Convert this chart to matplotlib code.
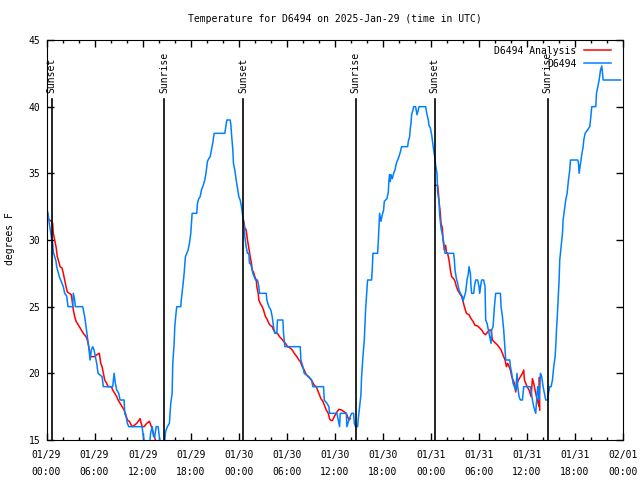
import numpy as np
import pandas as pd
import matplotlib
matplotlib.use('Agg')
import matplotlib.pyplot as plt

plt.rcParams['font.family'] = 'DejaVu Sans Mono'
plt.rcParams['font.size'] = 7

nan = float('nan')

# hours since 2025-01-29 00:00 UTC, observed temperature (F)
obs_h = [0.1, 0.19, 0.35, 0.6, 0.77, 0.85, 1.02, 1.19, 1.27, 1.6, 1.77, 1.94, 2.1, 2.27, 2.52, 2.69,
         3.27, 3.35, 3.52, 3.6, 4.52, 4.6, 4.77, 4.94, 5.1, 5.27, 5.44, 5.6, 5.77, 5.94, 6.1, 6.27,
         6.44, 6.94, 7.1, 8.27, 8.44, 8.6, 8.77, 9.02, 9.19, 9.69, 9.77, 9.94, 10.1, 10.27, 11.94,
         12.1, 12.35, 12.85, 13.0, 13.2, 13.35, 13.5, 13.7, 13.94, 14.1, 14.3, 14.7, 14.85, 14.94,
         15.1, 15.35, 15.52, 15.69, 15.77, 15.94, 16.02, 16.19, 16.27, 16.77, 16.85, 17.02, 17.19,
         17.35, 17.52, 17.69, 17.85, 18.02, 18.19, 18.77, 18.85, 19.02, 19.19, 19.35, 19.52, 19.77,
         19.94, 20.1, 20.27, 20.44, 20.6, 20.77, 20.94, 22.27, 22.44, 22.52, 22.94, 23.02, 23.1,
         23.27, 23.35, 23.52, 23.69, 23.85, 24.02, 24.19, 24.35, 24.52, 24.69, 24.77, 24.94, 25.1,
         25.27, 25.35, 25.44, 25.6, 25.77, 25.94, 26.1, 26.35, 26.52, 26.6, 27.44, 27.52, 27.77,
         28.02, 28.19, 28.35, 28.52, 28.77, 28.85, 29.52, 29.6, 29.77, 31.69, 31.77, 32.02, 32.19,
         32.77, 33.1, 33.27, 34.6, 34.69, 35.02, 35.27, 35.35, 36.27, 36.44, 36.6, 36.69, 37.44,
         37.52, 37.77, 38.1, 38.35, 38.44, 38.6, 38.85, 38.94, 39.1, 39.27, 39.35, 39.52, 39.69,
         39.77, 39.85, 40.02, 40.1, 40.6, 40.69, 40.77, 41.35, 41.44, 41.52, 41.6, 41.77, 41.94,
         42.1, 42.19, 42.52, 42.69, 42.77, 42.85, 42.94, 43.02, 43.19, 43.35, 43.52, 43.69, 43.85,
         44.02, 44.19, 44.35, 45.1, 45.19, 45.35, 45.44, 45.52, 45.6, 45.77, 45.85, 46.1, 46.27,
         46.44, 46.52, 47.35, 47.52, 47.69, 47.77, 47.94, 48.1, 48.19, 48.35, 48.52, 48.6, 48.77,
         48.85, 49.02, 49.1, 49.27, 49.44, 49.6, 49.77, 50.85, 50.94, 51.02, 51.19, 51.35, 51.52,
         51.69, 51.94, 52.02, 52.19, 52.35, 52.52, 52.69, 52.77, 52.94, 53.02, 53.1, 53.35, 53.44,
         53.6, 53.85, 54.02, 54.1, 54.27, 54.35, 54.6, 54.77, 54.85, 55.02, 55.19, 55.35, 55.52,
         55.6, 55.77, 55.94, 56.1, 56.69, 56.77, 56.94, 57.1, 57.19, 57.27, 57.35, 57.85, 57.94,
         58.1, 58.27, 58.44, 58.6, 58.77, 58.85, 59.02, 59.19, 59.44, 59.52, 59.6, 60.44, 60.69,
         60.85, 61.1, 61.27, 61.35, 61.52, 61.69, 61.85, 62.02, 62.19, 62.35, 62.6, 62.69, 62.85,
         63.02, 63.19, 63.35, 63.52, 63.6, 63.69, 63.77, 63.85, 64.02, 64.1, 64.27, 64.44, 64.52,
         64.69, 64.85, 65.02, 65.19, 65.35, 65.44, 66.35, 66.44, 66.52, 66.69, 66.85, 67.02, 67.1,
         67.27, 67.85, 67.94, 68.1, 68.6, 68.69, 68.85, 69.02, 69.19, 69.35, 69.44, 69.52, 71.69]
obs_t = [32.2, 32.0, 31.25, 30.25, 29.75, 29.1, 28.75, 28.4, 28.0, 27.25, 27.0, 26.75, 26.5, 26.0, 25.8, 25.0,
         25.0, 26.0, 25.5, 25.0, 25.0, 24.75, 24.25, 23.5, 22.75, 22.0, 21.0, 21.75, 22.0, 21.75, 21.25, 20.75,
         20.0, 19.75, 19.0, 19.0, 20.0, 19.25, 18.75, 18.5, 18.0, 18.0, 17.0, 16.75, 16.25, 16.0, 16.0,
         15.25, 14.5, 14.5, 15.5, 16.0, 15.3, 15.2, 16.0, 16.0, 15.2, 14.5, 14.5, 15.5, 15.75,
         16.0, 16.25, 17.75, 18.5, 20.75, 22.25, 23.5, 24.6, 25.0, 25.0, 25.6, 26.5, 27.5,
         28.75, 29.0, 29.25, 29.75, 30.5, 32.0, 32.0, 32.75, 33.1, 33.25, 33.75, 34.0, 34.5,
         35.1, 35.9, 36.1, 36.25, 36.75, 37.3, 38.0, 38.0, 38.7, 39.0, 39.0, 38.7, 38.0,
         36.75, 35.75, 35.25, 34.5, 33.9, 33.25, 33.0, 32.5, 31.75, 31.0, 30.25, 29.5, 29.0,
         29.0, 28.25, 28.25, 28.0, 27.5, 27.25, 27.0, 27.0, 26.5, 26.0, 26.0, 25.5, 25.0,
         24.75, 24.25, 23.5, 23.0, 23.0, 24.0, 24.0, 23.0, 22.0, 22.0, 21.0, 20.5, 20.0,
         19.75, 19.5, 19.0, 19.0, 18.0, 17.75, 17.5, 17.0, 17.0, 16.5, 16.0, 17.0, 17.0,
         16.0, 16.5, 17.0, 17.0, 16.25, 16.0, 16.0, 16.6, 17.5, 18.4, 19.75, 21.25, 22.5,
         23.6, 24.75, 26.25, 27.0, 27.0, 27.9, 29.0, 29.0, 29.9, 31.0, 32.0, 31.4, 31.9,
         32.25, 32.9, 33.1, 33.6, 34.5, 34.9, 34.4, 34.9, 34.6, 35.0, 35.25, 35.75, 36.0,
         36.25, 36.6, 37.0, 37.0, 37.4, 37.75, 38.4, 38.75, 39.4, 39.75, 40.0, 40.0, 39.4,
         39.75, 40.0, 40.0, 39.4, 39.0, 38.6, 38.4, 37.9, 37.5, 36.75, 36.1, 35.6, 35.0,
         33.6, 32.9, 31.9, 30.9, 30.4, 29.9, 29.0, 29.0, 28.5, 27.75, 27.1, 26.75, 26.25,
         26.0, 25.75, 25.4, 25.75, 26.1, 27.0, 27.5, 28.0, 27.5, 26.5, 26.0, 26.0, 26.5,
         27.0, 27.0, 26.5, 26.0, 26.75, 27.0, 27.0, 26.5, 24.0, 23.75, 23.25, 22.75, 22.25,
         23.25, 23.5, 25.0, 26.0, 26.0, 25.0, 24.25, 23.25, 22.5, 21.75, 21.0, 21.0, 20.5,
         20.0, 19.25, 19.0, 18.75, 20.0, 19.0, 18.25, 18.0, 18.0, 18.5, 19.0, 19.0, 18.0,
         17.5, 17.0, 18.5, 19.0, 18.0, 20.0, 19.75, 19.0, 18.5, 18.0, 18.0, 18.5, 19.0,
         19.0, 19.5, 20.5, 21.25, 22.0, 23.25, 24.0, 25.0, 27.0, 28.5, 29.5, 30.5, 31.5,
         32.25, 33.0, 33.5, 34.5, 35.25, 36.0, 36.0, 35.75, 35.0, 35.75, 36.4, 37.0, 37.5,
         38.0, 38.5, 39.0, 40.0, 40.0, 41.0, 41.5, 42.0, 42.75, 43.05, 42.5, 42.0, 42.0]

# analysis temperature (F), night periods only
ana_h = [0.4, 0.6, 0.77, 0.85, 1.02, 1.19, 1.35, 1.52, 1.69, 1.94, 2.1, 2.27, 2.44, 2.6, 2.85, 3.1,
         3.19, 3.35, 3.52, 3.69, 3.85, 4.1, 4.35, 4.6, 4.94, 5.1, 5.19, 5.35, 5.52, 6.02, 6.27, 6.6,
         6.77, 6.94, 7.1, 7.27, 7.52, 7.69, 8.1, 8.27, 8.52, 8.77, 8.94, 9.19, 9.44, 9.69, 9.85,
         10.1, 10.35, 10.6, 10.77, 11.27, 11.69, 11.94, 12.19, 12.52, 12.85, 13.1, 13.35, 13.6, 13.94,
         nan,
         24.6, 24.77, 24.94, 25.1, 25.27, 25.44, 25.6, 25.69, 25.85, 26.02, 26.19, 26.27, 26.44,
         26.52, 26.69, 26.94, 27.1, 27.35, 27.52, 27.77, 27.94, 28.19, 28.35, 28.6, 28.85, 29.1,
         29.35, 29.6, 29.85, 30.1, 30.44, 30.69, 30.94, 31.27, 31.52, 31.69, 31.94, 32.19, 32.44,
         32.69, 32.94, 33.19, 33.44, 33.69, 33.85, 34.02, 34.27, 34.52, 34.77, 34.94, 35.19, 35.35,
         35.44, 35.69, 35.94, 36.27, 36.52, 36.85, 37.19, 37.44, 37.6, 37.77, 37.94,
         nan,
         48.52, 48.85, 48.94, 49.02, 49.19, 49.27, 49.44, 49.52, 49.69, 49.85, 49.94, 50.1, 50.27,
         50.44, 50.6, 50.85, 51.02, 51.19, 51.35, 51.6, 51.85, 52.02, 52.19, 52.44, 52.77, 53.02,
         53.27, 53.52, 53.85, 54.1, 54.35, 54.6, 54.85, 55.1, 55.35, 55.52, 55.69, 55.85, 56.1,
         56.35, 56.6, 56.77, 56.94, 57.1, 57.27, 57.44, 57.6, 57.77, 57.94, 58.1, 58.27, 58.44,
         58.6, 58.77, 58.94, 59.19, 59.44, 59.6, 59.69, 59.85, 60.02, 60.27, 60.52, 60.69, 60.85,
         61.02, 61.19, 61.35, 61.52, 61.56, 61.6]
ana_t = [31.5, 31.4, 31.25, 30.5, 30.0, 29.5, 28.75, 28.4, 28.0, 27.9, 27.5, 27.0, 26.5, 26.1, 26.0, 25.9,
         25.5, 24.75, 24.25, 23.9, 23.75, 23.5, 23.25, 23.0, 22.75, 22.5, 22.25, 21.75, 21.25, 21.25, 21.4, 21.5,
         20.75, 20.5, 20.0, 19.5, 19.25, 19.0, 19.0, 18.75, 18.5, 18.25, 18.0, 17.75, 17.5, 17.25, 17.0,
         16.5, 16.4, 16.1, 16.0, 16.25, 16.6, 16.0, 16.0, 16.25, 16.4, 16.0, 15.5, 15.0, 14.6,
         nan,
         31.5, 30.9, 30.75, 30.0, 29.4, 28.75, 28.25, 27.75, 27.6, 27.25, 27.0, 26.5, 26.0,
         25.5, 25.25, 25.0, 24.75, 24.25, 24.1, 23.75, 23.6, 23.5, 23.25, 23.0, 23.0, 22.75,
         22.6, 22.4, 22.25, 22.0, 21.9, 21.75, 21.5, 21.25, 21.0, 20.9, 20.5, 20.25, 19.9,
         19.75, 19.6, 19.4, 19.1, 19.0, 18.75, 18.5, 18.1, 17.9, 17.5, 17.25, 17.0, 16.6,
         16.5, 16.45, 16.75, 17.1, 17.3, 17.25, 17.1, 17.0, 16.75, 16.5, 16.6,
         nan,
         34.1, 34.1, 33.6, 32.9, 32.0, 31.25, 30.9, 30.0, 29.25, 29.6, 29.1, 29.0, 28.5,
         27.75, 27.25, 27.1, 26.9, 26.5, 26.25, 26.0, 25.75, 25.4, 25.0, 24.5, 24.4, 24.1,
         23.9, 23.6, 23.55, 23.4, 23.25, 23.0, 22.9, 23.1, 23.25, 23.25, 22.5, 22.4, 22.25,
         22.1, 21.9, 21.75, 21.5, 21.25, 21.0, 20.5, 20.75, 20.5, 20.25, 19.75, 19.5, 19.25,
         18.6, 19.25, 19.5, 19.75, 20.0, 20.25, 19.5, 19.25, 19.0, 18.75, 18.25, 19.6, 19.25,
         18.75, 18.25, 17.9, 17.5, 19.7, 17.25]

sun_h = [0.65, 14.72, 24.6, 38.6, 48.48, 62.6]
sun_lab = ['Sunset', 'Sunrise', 'Sunset', 'Sunrise', 'Sunset', 'Sunrise']

tick_h = np.arange(0, 73, 6)
tick_lab = pd.date_range('2025-01-29', periods=len(tick_h), freq='6h').strftime('%m/%d\n%H:%M')

fig = plt.figure(figsize=(6.4, 4.8), dpi=100)
ax = fig.add_axes([46.5/640, 40/480, 576.5/640, 400/480])

ax.plot(ana_h, ana_t, color='red', lw=1.1, label='D6494 Analysis')
ax.plot(obs_h, obs_t, color='#0080ff', lw=1.1, label='D6494')

for h, lab in zip(sun_h, sun_lab):
    ax.plot([h, h], [15, 40.55], color='black', lw=1.2)
    ax.text(h, 41.05, lab, rotation=90, ha='center', va='bottom')

ax.set_xlim(0, 72)
ax.set_ylim(15, 45)
ax.set_xticks(tick_h, tick_lab, linespacing=1.9)
ax.set_xticks(np.arange(0, 73, 2), minor=True)
ax.set_yticks(range(15, 46, 5))
ax.tick_params(direction='in', top=True, right=True, length=5, width=1)
ax.tick_params(which='minor', direction='in', top=True, length=2.5, width=1)
ax.tick_params(axis='x', pad=7)
ax.tick_params(axis='y', pad=4.5)

ax.legend(loc='upper right', bbox_to_anchor=(0.985, 0.993), frameon=False,
          markerfirst=False, handlelength=2.8, handletextpad=0.8, borderaxespad=0,
          borderpad=0.3, labelspacing=0.3)

fig.text(335/640, 1 - 19/480, 'Temperature for D6494 on 2025-Jan-29 (time in UTC)',
         ha='center', va='center')
fig.text(10/640, 0.502, 'degrees F', rotation=90, ha='center', va='center')

fig.savefig('out.png', dpi=100)
